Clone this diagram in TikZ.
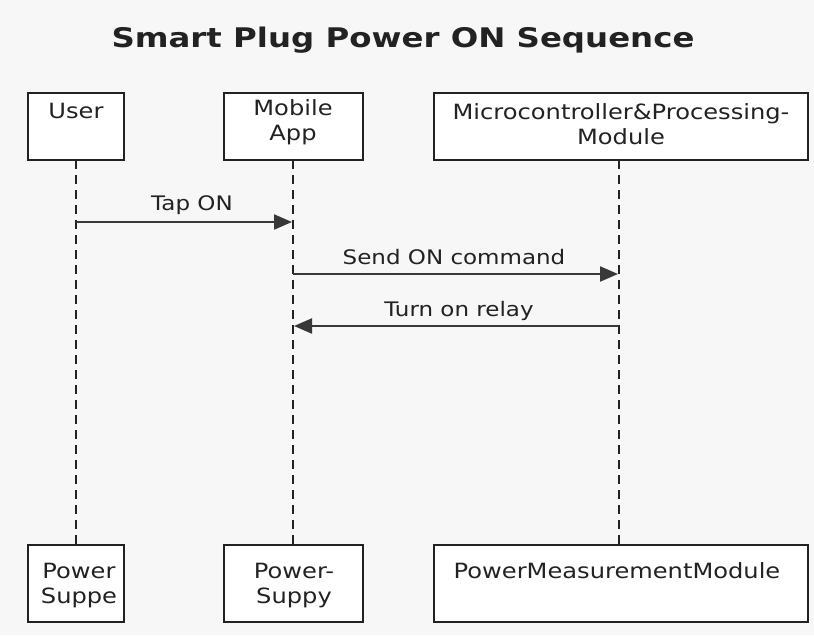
\documentclass[tikz,border=0pt]{standalone}
\usepackage{fontspec}
\setmainfont{DejaVu Sans}[FakeStretch=1.15]
\newfontfamily\titlefont{DejaVu Sans}[FakeStretch=1.2]
\usetikzlibrary{arrows.meta}
\definecolor{bg}{HTML}{F7F7F7}
\definecolor{ink}{HTML}{222222}
\tikzset{
  actor/.style={draw=ink, line width=2pt, fill=white, inner sep=0pt},
  lbl/.style={font=\fontsize{21}{25}\selectfont, text=ink, align=center, inner sep=0pt, anchor=base},
  life/.style={draw=ink, line width=1.6pt, dash pattern=on 9pt off 6pt},
  msg/.style={draw=ink!90, line width=2.2pt, -{Triangle[length=18pt,width=15pt]}},
  msglbl/.style={font=\fontsize{20}{24}\selectfont, text=ink, inner sep=0pt, anchor=base}
}
\begin{document}
\begin{tikzpicture}[x=1pt,y=-1pt]
\fill[bg] (0,0) rectangle (814,635);
\useasboundingbox (0,0) rectangle (814,635);
\node[font=\titlefont\fontsize{27}{32}\selectfont\bfseries, text=ink, anchor=base, inner sep=0pt] (title) at (403,47) {Smart Plug Power ON Sequence};
% top boxes
\draw[actor] (28,93) rectangle (124,160);
\draw[actor] (224,93) rectangle (363,160);
\draw[actor] (434,93) rectangle (808,160);
\node[lbl] (uT) at (76,118) {User};
\node[lbl] (mT) at (293,140) {Mobile\\App};
\node[lbl] (cT) at (621,144) {Microcontroller\&Processing-\\Module};
% bottom boxes
\draw[actor] (28,545) rectangle (124,622);
\draw[actor] (224,545) rectangle (363,622);
\draw[actor] (434,545) rectangle (808,622);
\node[lbl] (uB) at (79,603) {Power\\Suppe};
\node[lbl] (mB) at (294,603) {Power-\\Suppy};
\node[lbl] (cB) at (617,578) {PowerMeasurementModule};
% lifeline anchors
\coordinate (u1) at (76,160); \coordinate (u2) at (76,545);
\coordinate (m1) at (293,160); \coordinate (m2) at (293,545);
\coordinate (c1) at (619,160); \coordinate (c2) at (619,545);
\draw[life] (u1) -- (u2);
\draw[life] (m1) -- (m2);
\draw[life] (c1) -- (c2);
% messages
\coordinate (a1) at (76,222); \coordinate (a2) at (292,222);
\coordinate (b1) at (293,274); \coordinate (b2) at (618,274);
\coordinate (d1) at (619,326); \coordinate (d2) at (294,326);
\draw[msg] (a1) -- (a2);
\draw[msg] (b1) -- (b2);
\draw[msg] (d1) -- (d2);
\node[msglbl] (l1) at (192,210) {Tap ON};
\node[msglbl] (l2) at (454,264) {Send ON command};
\node[msglbl] (l3) at (459,316) {Turn on relay};
\end{tikzpicture}
\end{document}
